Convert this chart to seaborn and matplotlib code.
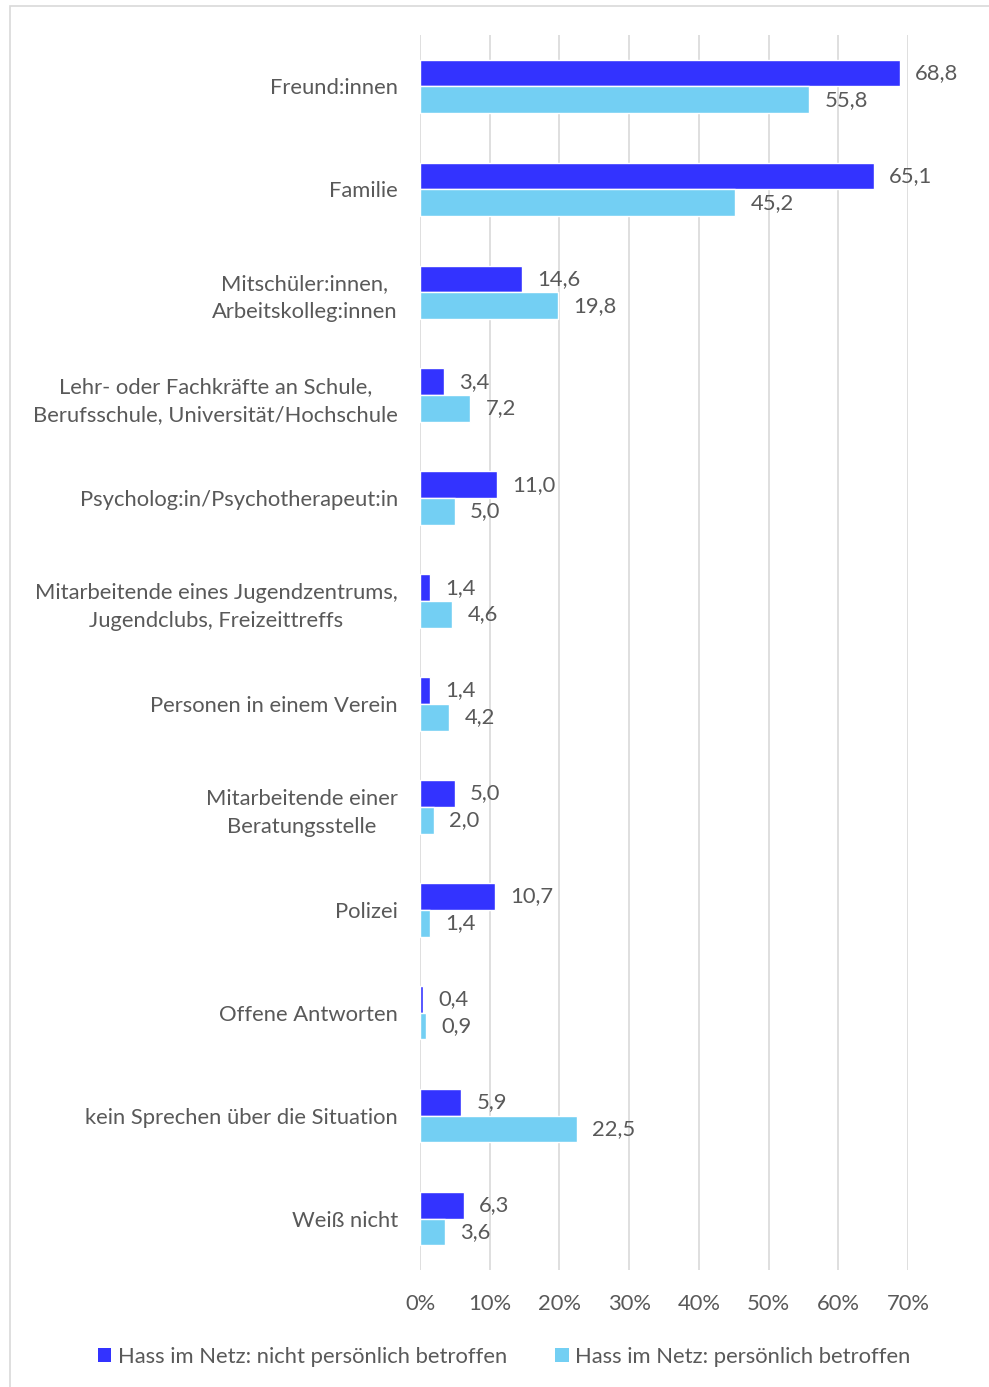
import numpy as np
import pandas as pd
import matplotlib.pyplot as plt
from matplotlib.patches import Rectangle, Patch
import seaborn as sns

# data
categories = [
    'Freund:innen',
    'Familie',
    'Mitschüler:innen,\nArbeitskolleg:innen',
    'Lehr- oder Fachkräfte an Schule,\nBerufsschule, Universität/Hochschule',
    'Psycholog:in/Psychotherapeut:in',
    'Mitarbeitende eines Jugendzentrums,\nJugendclubs, Freizeittreffs',
    'Personen in einem Verein',
    'Mitarbeitende einer\nBeratungsstelle',
    'Polizei',
    'Offene Antworten',
    'kein Sprechen über die Situation',
    'Weiß nicht',
]
nicht_betroffen = [68.8, 65.1, 14.6, 3.4, 11.0, 1.4, 1.4, 5.0, 10.7, 0.4, 5.9, 6.3]
betroffen = [55.8, 45.2, 19.8, 7.2, 5.0, 4.6, 4.2, 2.0, 1.4, 0.9, 22.5, 3.6]
series_names = ['Hass im Netz: nicht persönlich betroffen',
                'Hass im Netz: persönlich betroffen']
x_ticks = [0, 10, 20, 30, 40, 50, 60, 70]

df = pd.DataFrame({
    'Kategorie': categories * 2,
    'Wert': nicht_betroffen + betroffen,
    'Gruppe': [series_names[0]] * len(categories) + [series_names[1]] * len(categories),
})

colors = ['#3333FF', '#73CFF3']
text_color = '#595959'
grid_color = '#D9D9D9'
fs = 15.8

sns.set_style('white')
plt.rcParams['font.family'] = ['Lato', 'DejaVu Sans']
plt.rcParams['font.size'] = fs

fig = plt.figure(figsize=(9.89, 13.87), dpi=100)
ax = fig.add_axes([420 / 989, 1 - 1270 / 1387, (908 - 420) / 989, (1270 - 35) / 1387])

sns.barplot(data=df, y='Kategorie', x='Wert', hue='Gruppe', orient='h',
            palette=colors, saturation=1, width=0.52, ax=ax, legend=False)

ax.set_xlim(0, 70)
ax.set_xticks(x_ticks)
ax.set_xticklabels([f'{t}%' for t in x_ticks])
ax.set_xlabel('')
ax.set_ylabel('')
ax.grid(axis='x', color=grid_color, linewidth=1.2)
ax.set_axisbelow(True)
for s in ax.spines.values():
    s.set_visible(False)
ax.tick_params(axis='x', length=0, pad=17, labelcolor=text_color, labelsize=fs)
ax.tick_params(axis='y', length=0, pad=16, labelcolor=text_color, labelsize=fs)
for lbl in ax.get_yticklabels():
    lbl.set_multialignment('center')
    lbl.set_linespacing(1.5)

# value labels with German decimal comma
for cont, vals in zip(ax.containers, [nicht_betroffen, betroffen]):
    ax.bar_label(cont, labels=[f'{v:.1f}'.replace('.', ',') for v in vals],
                 padding=11, color=text_color, fontsize=fs)

# legend at the bottom
handles = [Patch(facecolor=c, edgecolor='none') for c in colors]
fig.legend(handles, series_names, loc='center', bbox_to_anchor=(0.51, 1 - 1357 / 1387),
           ncol=2, frameon=False, fontsize=fs, labelcolor=text_color,
           handlelength=0.6, handleheight=0.6, handletextpad=0.3, columnspacing=2.2)

# light frame around the chart area
fig.add_artist(Rectangle((10 / 989, -0.05), 1.1, 1.05 - 6 / 1387, transform=fig.transFigure,
                         fill=False, edgecolor=grid_color, linewidth=1.2))

fig.savefig('out.png', dpi=100)
